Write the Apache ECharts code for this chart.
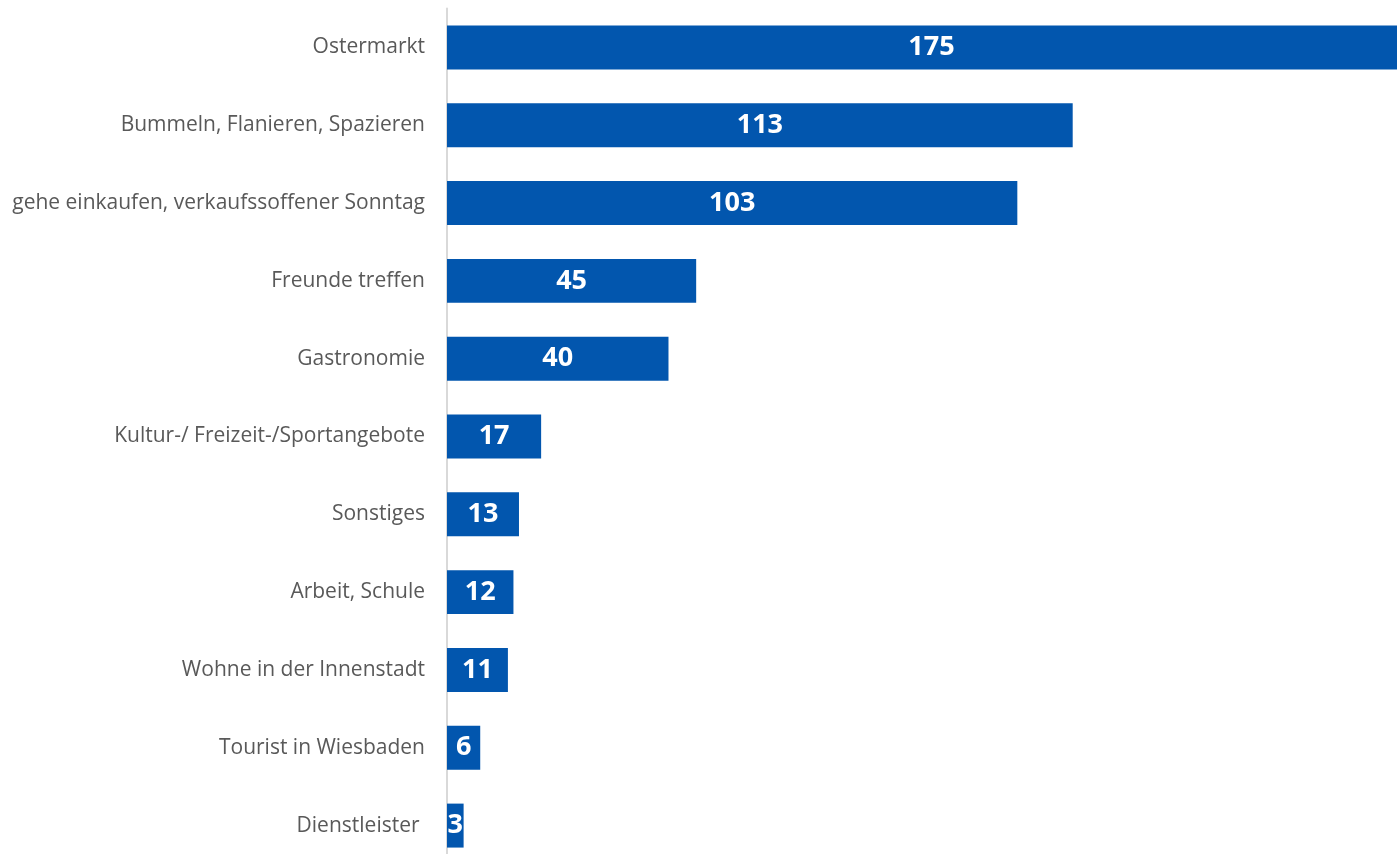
<!DOCTYPE html>
<html><head><meta charset="utf-8">
<script src="https://cdn.jsdelivr.net/npm/echarts@6/dist/echarts.min.js"></script>
<style>html,body{margin:0;padding:0;background:#fff}#c{width:1397px;height:854px}</style>
</head><body><div id="c"></div>
<script>
const categories = ["Ostermarkt","Bummeln, Flanieren, Spazieren","gehe einkaufen, verkaufssoffener Sonntag","Freunde treffen","Gastronomie","Kultur-/ Freizeit-/Sportangebote","Sonstiges","Arbeit, Schule","Wohne in der Innenstadt","Tourist in Wiesbaden","Dienstleister "];
const values = [175,113,103,45,40,17,13,12,11,6,3];
const chart = echarts.init(document.getElementById('c'));
chart.setOption({
  animation:false,
  grid:{left:447,width:969,top:8.5,height:856,outerBoundsMode:'none'},
  xAxis:{type:'value',min:0,max:175,show:false},
  yAxis:{type:'category',inverse:true,data:categories,
    axisLine:{show:true,lineStyle:{color:'#d9d9d9',width:2}},
    axisTick:{show:false},
    axisLabel:{color:'#595959',fontFamily:'Open Sans',fontSize:21,margin:22}},
  series:[{type:'bar',data:values,barCategoryGap:'43.5%',
    itemStyle:{color:'#0256ae'},
    label:{show:true,position:'inside',color:'#ffffff',fontFamily:'Open Sans',fontWeight:'bold',fontSize:27}}]
});
</script></body></html>
